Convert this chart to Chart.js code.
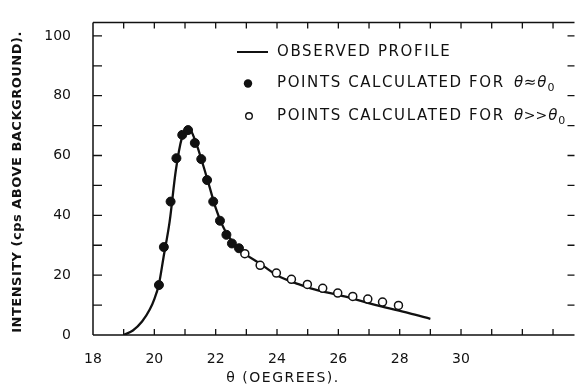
<!DOCTYPE html>
<html>
<head>
<meta charset="utf-8">
<script src="https://cdn.jsdelivr.net/npm/chart.js@4/dist/chart.umd.min.js"></script>
<style>
  html, body { margin: 0; padding: 0; background: #fff; }
  #wrap { width: 580px; height: 390px; position: relative; }
</style>
</head>
<body>
<div id="wrap"><canvas id="c" width="580" height="390"></canvas></div>
<script>
// ---- data ----
const profileTheta = [19.0, 19.3, 19.6, 19.85, 20.0, 20.15, 20.3, 20.5, 20.7, 20.9, 21.1, 21.35, 21.6, 21.8, 22.0, 22.3, 22.6, 23.0, 23.4, 24.0, 24.7, 25.1, 26.2, 27.3, 28.3, 29.0];
const profileIntensity = [0, 1.5, 4.5, 8.5, 12, 17, 26, 38, 55, 66, 69.5, 64.5, 56.5, 49.5, 42.5, 35, 30.5, 26.8, 24.2, 20, 17, 15.6, 12.9, 9.8, 7.3, 5.4];

const nearTheta = [20.15, 20.31, 20.53, 20.72, 20.91, 21.10, 21.32, 21.53, 21.72, 21.92, 22.14, 22.35, 22.53, 22.76];
const nearIntensity = [16.7, 29.4, 44.6, 59.1, 66.9, 68.5, 64.2, 58.8, 51.8, 44.6, 38.2, 33.5, 30.6, 29.0];

const farTheta = [22.95, 23.45, 23.98, 24.47, 24.99, 25.49, 25.98, 26.47, 26.96, 27.44, 27.96];
const farIntensity = [27.2, 23.3, 20.7, 18.6, 16.9, 15.6, 14.0, 12.9, 12.0, 11.0, 9.9];

const xTickLabels = [18, 20, 22, 24, 26, 28, 30];
const yTickLabels = [0, 20, 40, 60, 80, 100];

const legendLabels = ['OBSERVED PROFILE', 'POINTS CALCULATED FOR', 'POINTS CALCULATED FOR'];
const xTitle = 'θ (OEGREES).';
const yTitle = 'INTENSITY (cps ABOVE BACKGROUND).';

// ---- helpers ----
const INK = '#111';
const zip = (xs, ys) => xs.map((x, i) => ({ x: x, y: ys[i] }));
const isStep = (v, s) => Math.abs(v / s - Math.round(v / s)) < 1e-6;

const decor = {
  id: 'decor',
  afterDatasetsDraw(chart) {
    const ctx = chart.ctx;
    const a = chart.chartArea;
    const xs = chart.scales.x, ys = chart.scales.y;
    ctx.save();
    ctx.strokeStyle = INK;
    ctx.lineWidth = 1.5;
    // frame: left, bottom, top
    ctx.beginPath();
    ctx.moveTo(a.left, a.top); ctx.lineTo(a.left, a.bottom);
    ctx.moveTo(a.left, a.bottom); ctx.lineTo(a.right, a.bottom);
    ctx.moveTo(a.left, a.top); ctx.lineTo(a.right, a.top);
    ctx.stroke();
    // inward ticks
    ctx.lineWidth = 1.3;
    ctx.beginPath();
    xs.ticks.forEach(t => {
      if (!isStep(t.value, 1)) return;
      const px = xs.getPixelForValue(t.value);
      if (px <= a.left + 1) return;
      ctx.moveTo(px, a.bottom); ctx.lineTo(px, a.bottom - 6);
      ctx.moveTo(px, a.top); ctx.lineTo(px, a.top + 6);
    });
    ys.ticks.forEach(t => {
      if (!isStep(t.value, 10)) return;
      const py = ys.getPixelForValue(t.value);
      if (py >= a.bottom - 1) return;
      ctx.moveTo(a.left, py); ctx.lineTo(a.left + 9, py);
      ctx.moveTo(a.right, py); ctx.lineTo(a.right - 7, py);
    });
    ctx.stroke();
    ctx.restore();
  },
  afterDraw(chart) {
    const ctx = chart.ctx;
    ctx.save();
    ctx.fillStyle = INK;
    ctx.strokeStyle = INK;
    // ---- legend ----
    const font = '15px "DejaVu Sans"';
    const ital = 'italic 15px "DejaVu Sans"';
    ctx.font = font;
    ctx.letterSpacing = '1.6px';
    ctx.textBaseline = 'middle';
    ctx.textAlign = 'left';
    const tx = 277;
    const rows = [52, 83.5, 116];
    // row 1: line sample
    ctx.lineWidth = 2;
    ctx.beginPath(); ctx.moveTo(237, rows[0]); ctx.lineTo(268, rows[0]); ctx.stroke();
    ctx.fillText(legendLabels[0], tx, rows[0]);
    // row 2: filled dot
    ctx.beginPath(); ctx.arc(248, rows[1], 4.2, 0, Math.PI * 2); ctx.fill();
    // row 3: open circle
    ctx.lineWidth = 1.4;
    ctx.beginPath(); ctx.arc(249, rows[2], 3.3, 0, Math.PI * 2); ctx.stroke();
    const rel = ['≈', '>>'];
    [1, 2].forEach((r, k) => {
      const y = rows[r];
      ctx.font = font;
      ctx.letterSpacing = '1.6px';
      ctx.fillText(legendLabels[r], tx, y);
      ctx.letterSpacing = '0px';
      let x = 514;
      ctx.font = ital;
      ctx.fillText('θ', x, y); x += ctx.measureText('θ').width + 0.5;
      ctx.font = k === 0 ? font : '14px "DejaVu Sans"';
      ctx.fillText(rel[k], x, y); x += ctx.measureText(rel[k]).width + 1;
      ctx.font = ital;
      ctx.fillText('θ', x, y); x += ctx.measureText('θ').width + 1;
      ctx.font = '11px "DejaVu Sans"';
      ctx.fillText('0', x, y + 5);
    });
    // ---- x title ----
    ctx.font = '14px "DejaVu Sans"';
    ctx.letterSpacing = '1.5px';
    ctx.textAlign = 'center';
    ctx.fillText(xTitle, 283, 378);
    // ---- y title ----
    ctx.translate(18, 182);
    ctx.rotate(-Math.PI / 2);
    ctx.font = 'bold 13px "DejaVu Sans"';
    ctx.letterSpacing = '0.5px';
    ctx.fillText(yTitle, 0, 0);
    ctx.restore();
  }
};

new Chart(document.getElementById('c'), {
  type: 'scatter',
  data: {
    datasets: [
      {
        label: 'near',
        data: zip(nearTheta, nearIntensity),
        showLine: false,
        pointRadius: 4.5,
        pointBackgroundColor: INK,
        pointBorderColor: INK,
        pointBorderWidth: 1,
        order: 0
      },
      {
        label: 'far',
        data: zip(farTheta, farIntensity),
        showLine: false,
        pointRadius: 4,
        pointBackgroundColor: '#fff',
        pointBorderColor: INK,
        pointBorderWidth: 1.5,
        order: 1
      },
      {
        label: 'profile',
        type: 'line',
        data: zip(profileTheta, profileIntensity),
        borderColor: INK,
        borderWidth: 2.3,
        pointRadius: 0,
        fill: false,
        cubicInterpolationMode: 'monotone',
        order: 2
      }
    ]
  },
  options: {
    responsive: false,
    animation: false,
    devicePixelRatio: 1,
    layout: { padding: { top: 11, right: 1, left: 0, bottom: 0 } },
    plugins: { legend: { display: false }, tooltip: { enabled: false } },
    scales: {
      x: {
        type: 'linear',
        min: 18, max: 33.7,
        grid: { display: false },
        border: { display: false },
        ticks: {
          stepSize: 1,
          includeBounds: false,
          autoSkip: false,
          maxRotation: 0,
          padding: 8,
          color: INK,
          font: { family: 'DejaVu Sans', size: 14 },
          callback: v => xTickLabels.includes(v) ? String(v) : ''
        },
        afterFit: s => { s.height = 55; }
      },
      y: {
        min: 0, max: 104.5,
        grid: { display: false },
        border: { display: false },
        ticks: {
          stepSize: 10,
          includeBounds: false,
          autoSkip: false,
          padding: 14,
          color: INK,
          font: { family: 'DejaVu Sans', size: 14 },
          callback: v => yTickLabels.includes(v) ? String(v) : ''
        },
        afterFit: s => { s.width = 93; }
      }
    }
  },
  plugins: [decor]
});
</script>
</body>
</html>
